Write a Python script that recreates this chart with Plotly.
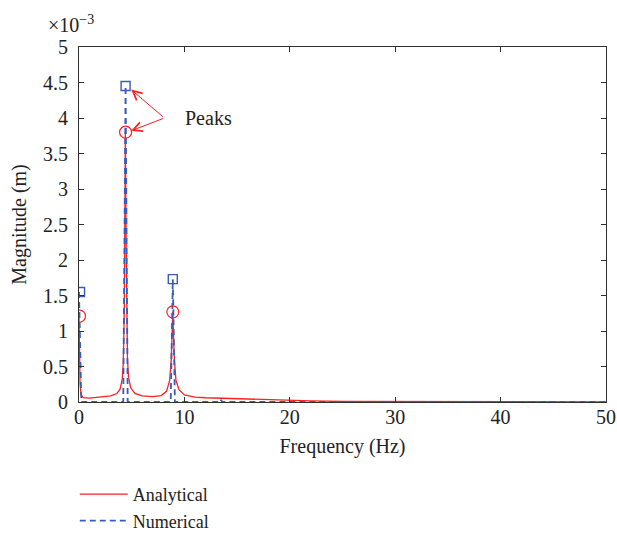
import plotly.graph_objects as go

# Analytical FRF magnitude (x1e-3 m)
freq_a = [0, 0.05, 0.1, 0.2, 0.4, 1.0, 2.0, 3.0, 3.6, 3.9, 4.1, 4.2, 4.3, 4.35, 4.4,
          4.45, 4.5, 4.6, 4.7, 4.9, 5.3, 6.0, 7.0, 7.8, 8.3, 8.6, 8.75, 8.85, 8.9,
          8.95, 9.05, 9.2, 9.5, 10, 11, 12, 13.0, 13.4, 14, 16, 18, 20, 22, 25, 30, 40, 50]
mag_a = [1.21, 0.6, 0.25, 0.1, 0.06, 0.055, 0.065, 0.085, 0.12, 0.18, 0.32, 0.55, 1.3, 2.3, 3.80,
         2.6, 1.5, 0.6, 0.35, 0.2, 0.12, 0.085, 0.075, 0.09, 0.15, 0.3, 0.6, 1.0, 1.27,
         1.0, 0.6, 0.3, 0.17, 0.1, 0.07, 0.06, 0.055, 0.06, 0.05, 0.04, 0.03, 0.025, 0.015,
         0.008, 0.005, 0.003, 0.002]

# Numerical FFT magnitude (x1e-3 m)
freq_n = [0, 0.22, 4.2, 4.42, 4.62, 8.7, 8.9, 9.1, 13.2, 13.4, 13.6, 50]
mag_n = [1.55, 0, 0, 4.45, 0, 0, 1.73, 0, 0, 0.04, 0, 0]

# Peaks
peak_f_a = [0.05, 4.42, 8.9]
peak_m_a = [1.21, 3.80, 1.27]
peak_f_n = [0.1, 4.42, 8.9]
peak_m_n = [1.55, 4.45, 1.73]

x_ticks = [0, 10, 20, 30, 40, 50]
y_ticks = [0, 0.5, 1, 1.5, 2, 2.5, 3, 3.5, 4, 4.5, 5]
y_tick_text = ["0", "0.5", "1", "1.5", "2", "2.5", "3", "3.5", "4", "4.5", "5"]

RED = "#ff2020"
BLUE = "#3a5bb8"
AX = "#303030"
TXT = "#222222"
FONT = "Liberation Serif"

W, H = 617, 539
M_T, M_B = 47, 0
PLOT_BOTTOM_PX = 402
y_dom0 = (H - M_B - PLOT_BOTTOM_PX) / (H - M_T - M_B)

fig = go.Figure()
fig.add_trace(go.Scatter(x=freq_a, y=mag_a, mode="lines", name="Analytical",
                         line=dict(color=RED, width=1.3)))
fig.add_trace(go.Scatter(x=freq_n, y=mag_n, mode="lines", name="Numerical",
                         line=dict(color=BLUE, width=1.8, dash="6px,4px")))
fig.add_trace(go.Scatter(x=peak_f_a, y=peak_m_a, mode="markers", showlegend=False,
                         marker=dict(symbol="circle-open", size=12, color=RED,
                                     line=dict(width=1.2, color=RED))))
fig.add_trace(go.Scatter(x=peak_f_n, y=peak_m_n, mode="markers", showlegend=False,
                         marker=dict(symbol="square-open", size=9, color=BLUE,
                                     line=dict(width=1.4, color=BLUE))))

arrow_common = dict(xref="x", yref="y", axref="x", ayref="y", text="",
                    showarrow=True, arrowhead=5, arrowsize=1.8, arrowwidth=1,
                    arrowcolor=RED, ax=8.1, ay=4.0)
fig.add_annotation(x=4.95, y=4.40, **arrow_common)
fig.add_annotation(x=4.95, y=3.82, **arrow_common)
fig.add_annotation(x=9.85, y=4.0, xref="x", yref="y", text="Peaks", showarrow=False,
                   xanchor="left", yanchor="middle",
                   font=dict(family=FONT, size=20, color=TXT))
fig.add_annotation(x=-0.015, y=1, xref="paper", yref="paper", text="×10<sup>−3</sup>",
                   showarrow=False, xanchor="center", yanchor="bottom", yshift=9,
                   font=dict(family=FONT, size=20, color=TXT))

axis_common = dict(showline=True, linecolor=AX, linewidth=1.2, mirror="ticks",
                   ticks="inside", ticklen=5, tickcolor=AX, tickwidth=1,
                   showgrid=False, zeroline=False, automargin=False,
                   tickfont=dict(family=FONT, size=20, color=TXT))

fig.update_xaxes(range=[0, 50], tickvals=x_ticks, ticktext=[str(v) for v in x_ticks],
                 ticklabelstandoff=-3,
                 title=dict(text="Frequency (Hz)", font=dict(family=FONT, size=20, color=TXT),
                            standoff=11),
                 **axis_common)
fig.update_yaxes(range=[0, 5], tickvals=y_ticks, ticktext=y_tick_text,
                 domain=[y_dom0, 1],
                 ticklabelstandoff=6,
                 title=dict(text="Magnitude (m)", font=dict(family=FONT, size=20, color=TXT),
                            standoff=10),
                 **axis_common)

fig.update_layout(
    width=W, height=H,
    margin=dict(l=79, r=11, t=M_T, b=M_B),
    plot_bgcolor="white", paper_bgcolor="white",
    showlegend=True,
    legend=dict(x=-0.008, y=0, xanchor="left", yanchor="bottom",
                font=dict(family=FONT, size=18, color=TXT), itemwidth=48,
                bgcolor="rgba(0,0,0,0)", tracegroupgap=0),
)

fig.write_html("out.html", config={"displayModeBar": False},
               post_script="document.body.style.margin='0';")
